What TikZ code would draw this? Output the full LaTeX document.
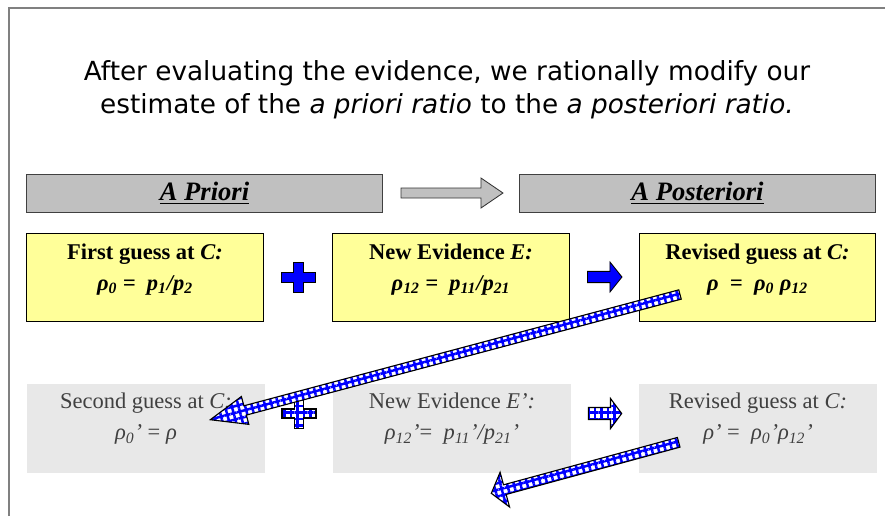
\documentclass[tikz,border=0pt]{standalone}
\usepackage{fontspec}
\setmainfont{Liberation Serif}
\newfontfamily\titlefont{DejaVu Sans}
\usetikzlibrary{calc,patterns.meta}
\definecolor{paleyellow}{RGB}{255,255,153}
\definecolor{barfill}{RGB}{192,192,192}
\definecolor{ghostfill}{RGB}{232,232,232}
\definecolor{ghosttext}{RGB}{64,64,64}
\tikzset{headbar/.style={
    draw=black!75, fill=barfill, line width=0.7pt,
    minimum width=8.9cm, minimum height=0.95cm,
    font=\fontsize{18.9}{22}\selectfont\bfseries\itshape},
  guessbox/.style={
    draw=black, fill=paleyellow, line width=0.7pt,
    minimum width=5.9cm, minimum height=2.2cm},
  ghostbox/.style={
    fill=ghostfill, minimum width=5.95cm, minimum height=2.225cm},
  boxtext/.style={
    anchor=north, align=center, inner sep=0pt,
    font=\fontsize{16}{22}\selectfont},
  solidblue/.style={draw=black, fill=blue, line width=0.6pt},
  hollow/.style={draw=black!80, fill=barfill, line width=0.6pt},
  checker/.style 2 args={
    draw=black, line width=0.8pt,
    preaction={fill=white},
    preaction={pattern={Lines[angle=#1,distance=4.6pt,line width=1.8pt]},pattern color=blue},
    preaction={pattern={Lines[angle=#2,distance=4.6pt,line width=1.8pt]},pattern color=blue}}}
% tail, tip, shaft half width, head half width, head length
\newcommand{\blockarrow}[6]{%
  \coordinate (ab) at ($(#3)!#6!(#2)$);
  \draw[#1] ($(#2)!#4!90:(#3)$) -- ($(ab)!#4!90:(#3)$) -- ($(ab)!#5!90:(#3)$) -- (#3)
    -- ($(ab)!#5!-90:(#3)$) -- ($(ab)!#4!-90:(#3)$) -- ($(#2)!#4!-90:(#3)$) -- cycle;}
% centre, half width, half height, half thickness
\newcommand{\plusmark}[5]{%
  \draw[#1, shift={(#2)}] (-#3,-#5) -- (-#5,-#5) -- (-#5,-#4) -- (#5,-#4) -- (#5,-#5) -- (#3,-#5)
    -- (#3,#5) -- (#5,#5) -- (#5,#4) -- (-#5,#4) -- (-#5,#5) -- (-#3,#5) -- cycle;}

\begin{document}
\begin{tikzpicture}[x=0.025cm,y=-0.025cm]
\useasboundingbox (0,0) rectangle (885,516);
\draw[gray, line width=1.4pt] (9,516) -- (9,8) -- (885,8);

\node[align=center, anchor=north, inner sep=0pt,
  font=\titlefont\fontsize{18.7}{23.5}\selectfont] (title) at (447,60)
  {After evaluating the evidence, we rationally modify our\\
   estimate of the \textit{a priori ratio} to the \textit{a posteriori ratio.}};

\node[headbar] (priori) at (204.5,193) {\underline{A Priori}};
\node[headbar] (posteriori) at (697.5,193) {\underline{A Posteriori}};

\node[guessbox] (first) at (145,277) {};
\node[guessbox] (evid) at (451,277) {};
\node[guessbox] (revised) at (757.5,277) {};
\node[boxtext] (firsttxt) at ($(first.north)+(0,11)$)
  {\textbf{First guess at \textit{C:}}\\
   \textbf{\textit{ρ\textsubscript{0} =\ \ p\textsubscript{1}/p\textsubscript{2}}}};
\node[boxtext] (evidtxt) at ($(evid.north)+(0,11)$)
  {\textbf{New Evidence \textit{E:}}\\
   \textbf{\textit{ρ\textsubscript{12} =\ \ p\textsubscript{11}/p\textsubscript{21}}}};
\node[boxtext] (revisedtxt) at ($(revised.north)+(0,11)$)
  {\textbf{Revised guess at \textit{C:}}\\
   \textbf{\textit{ρ\ \ =\ \ ρ\textsubscript{0} ρ\textsubscript{12}}}};

\node[ghostbox] (second) at (146,428.5) {};
\node[ghostbox] (evid2) at (452,428.5) {};
\node[ghostbox] (revised2) at (758,428.5) {};
\node[boxtext, text=ghosttext] (secondtxt) at ($(second.north)+(0,9)$)
  {Second guess at \textit{C:}\\
   \textit{ρ\textsubscript{0}’} = \textit{ρ}};
\node[boxtext, text=ghosttext] (evid2txt) at ($(evid2.north)+(0,9)$)
  {New Evidence \textit{E’:}\\
   \textit{ρ\textsubscript{12}’}=\ \ \textit{p\textsubscript{11}’/p\textsubscript{21}’}};
\node[boxtext, text=ghosttext] (revised2txt) at ($(revised2.north)+(0,9)$)
  {Revised guess at \textit{C:}\\
   \textit{ρ’} =\ \ \textit{ρ\textsubscript{0}’ρ\textsubscript{12}’}};

\coordinate (hs) at ($(priori.east)+(18,0)$);
\coordinate (he) at ($(posteriori.west)+(-16,0)$);
\blockarrow{hollow}{hs}{he}{0.125cm}{0.375cm}{0.55cm}

\coordinate (p1) at ($(first.east)!0.5!(evid.west)$);
\plusmark{solidblue}{p1}{17}{15}{5}
\coordinate (a1s) at ($(evid.east)+(18,0)$);
\coordinate (a1e) at ($(revised.west)+(-17,0)$);
\blockarrow{solidblue}{a1s}{a1e}{0.14cm}{0.375cm}{0.3cm}

\coordinate (p2) at ($(second.east)!0.5!(evid2.west)+(0,-15)$);
\plusmark{checker={0}{90}}{p2}{17}{15}{4.5}
\coordinate (a2s) at ($(evid2.east)+(17,-15)$);
\coordinate (a2e) at ($(revised2.west)+(-17,-15)$);
\blockarrow{checker={0}{90}}{a2s}{a2e}{0.15cm}{0.375cm}{0.28cm}

\coordinate (d1s) at ($(revised.south west)+(41,-27)$);
\coordinate (d1e) at ($(second.north east)+(-55,36)$);
\blockarrow{checker={15}{105}}{d1s}{d1e}{0.12cm}{0.36cm}{0.9cm}

\coordinate (d2s) at ($(revised2.south west)+(40,-31)$);
\coordinate (d2e) at ($(evid2.south east)+(-80,20)$);
\blockarrow{checker={15}{105}}{d2s}{d2e}{0.125cm}{0.45cm}{0.35cm}
\end{tikzpicture}
\end{document}
